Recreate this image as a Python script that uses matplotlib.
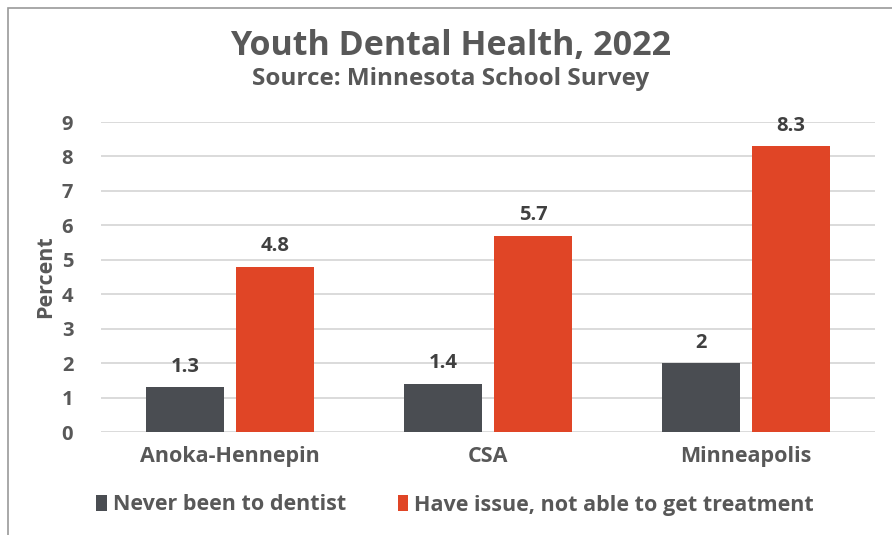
import matplotlib.pyplot as plt
import numpy as np
from matplotlib.patches import Rectangle

# Youth dental health by district (percent of students)
districts = ["Anoka-Hennepin", "CSA", "Minneapolis"]
never_dentist = [1.3, 1.4, 2]
no_treatment = [4.8, 5.7, 8.3]
series_names = ["Never been to dentist", "Have issue, not able to get treatment"]

DARK = "#4a4d52"
ORANGE = "#e04526"
TEXT = "#585858"

plt.rcParams["font.family"] = ["Open Sans", "DejaVu Sans"]

fig = plt.figure(figsize=(8.92, 5.35), dpi=100)
ax = fig.add_axes([101 / 892, 1 - 432 / 535, 774 / 892, 310 / 535])

# thin frame around the chart area
fig.patches.append(Rectangle((8 / 892, -0.1), 2, 1.1 - 8 / 535, transform=fig.transFigure,
                             fill=False, edgecolor="#9a9a9a", linewidth=1.2))

x = np.arange(len(districts))
w = 0.30
off = 0.175
b1 = ax.bar(x - off, never_dentist, w, color=DARK, label=series_names[0], zorder=3)
b2 = ax.bar(x + off, no_treatment, w, color=ORANGE, label=series_names[1], zorder=3)

for bars, vals in ((b1, never_dentist), (b2, no_treatment)):
    for rect, v in zip(bars, vals):
        ax.text(rect.get_x() + rect.get_width() / 2, v + 0.3, f"{v:g}",
                ha="center", va="bottom", fontsize=14.5, color="#404040", fontweight="bold")

ax.set_xlim(-0.5, 2.5)
ax.set_ylim(0, 9)
ax.set_yticks(range(10))
ax.yaxis.grid(True, color="#d4d4d4", linewidth=1.2, zorder=0)
ax.set_axisbelow(True)
for s in ax.spines.values():
    s.set_visible(False)
ax.tick_params(axis="both", length=0, labelsize=14.5, colors=TEXT)
ax.tick_params(axis="x", labelsize=15.5, pad=10)
ax.tick_params(axis="y", pad=20)
ax.set_xticks(x)
ax.set_xticklabels(districts)
for lbl in ax.get_xticklabels() + ax.get_yticklabels():
    lbl.set_fontweight("bold")

ax.set_ylabel("Percent", fontsize=15.5, fontweight="bold", color=TEXT, labelpad=4)

fig.text(0.505, 1 - 46 / 535, "Youth Dental Health, 2022", ha="center", va="center",
         fontsize=24.5, fontweight="bold", color=TEXT)
fig.text(0.505, 1 - 79 / 535, "Source: Minnesota School Survey", ha="center", va="center",
         fontsize=17.5, fontweight="bold", color=TEXT)

leg = fig.legend(loc="center", bbox_to_anchor=(0.51, 1 - 505 / 535), ncol=2, frameon=False,
                 fontsize=15.5, handlelength=0.5, handleheight=0.8, handletextpad=0.25,
                 columnspacing=2.4)
for t in leg.get_texts():
    t.set_color(TEXT)
    t.set_fontweight("bold")

fig.savefig("out.png", dpi=100, facecolor="white")
